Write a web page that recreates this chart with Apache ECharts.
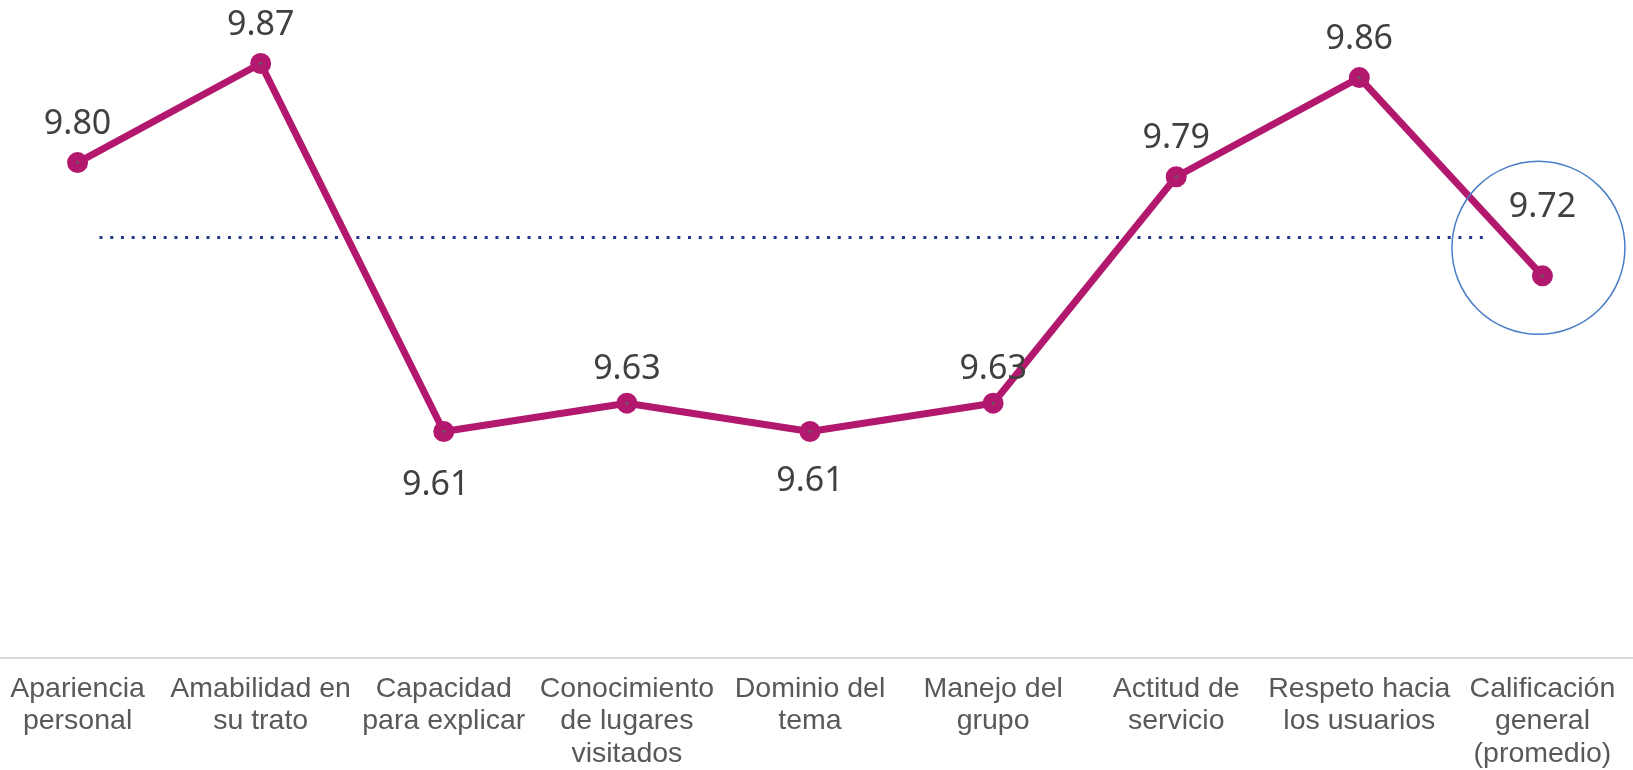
<!DOCTYPE html>
<html>
<head>
<meta charset="utf-8">
<script src="https://cdn.jsdelivr.net/npm/echarts@6/dist/echarts.min.js"></script>
<style>
  html, body { margin: 0; padding: 0; background: #fff; }
  #chart { width: 1633px; height: 770px; }
</style>
</head>
<body>
<div id="chart"></div>
<script>
const categories = [
  'Apariencia\npersonal',
  'Amabilidad en\nsu trato',
  'Capacidad\npara explicar',
  'Conocimiento\nde lugares\nvisitados',
  'Dominio del\ntema',
  'Manejo del\ngrupo',
  'Actitud de\nservicio',
  'Respeto hacia\nlos usuarios',
  'Calificación\ngeneral\n(promedio)'
]
const scores = [9.80, 9.87, 9.61, 9.63, 9.61, 9.63, 9.79, 9.86, 9.72]

// dotted reference line (x in category index units)
const refX = [0.12, 7.71]
const refY = 9.747

const magenta = '#B3186F'

// label placement tweaks per point
const labelTweaks = {
  2: { position: 'bottom', distance: 26.5, offset: [-8, 0] },
  3: { distance: 6.5 },
  4: { position: 'bottom', distance: 22.5 },
  5: { distance: 6.5 },
  8: { distance: 41 }
}

const chart = echarts.init(document.getElementById('chart'))

const option = {
  animation: false,
  grid: { left: -14, right: -1, top: 21, bottom: 112, outerBoundsMode: 'none' },
  xAxis: [
    {
      type: 'category',
      data: categories,
      boundaryGap: true,
      axisLine: { show: true, lineStyle: { color: '#D9D9D9', width: 2 } },
      axisTick: { show: false },
      axisLabel: {
        interval: 0,
        margin: 15,
        color: '#595959',
        fontFamily: 'Liberation Sans, Arial, sans-serif',
        fontSize: 28.5,
        lineHeight: 32.3,
        align: 'center'
      },
      splitLine: { show: false }
    },
    {
      type: 'value',
      min: -0.5,
      max: 8.5,
      show: false
    }
  ],
  yAxis: {
    type: 'value',
    min: 9.45,
    max: 9.90,
    show: false,
    splitLine: { show: false }
  },
  series: [
    {
      type: 'line',
      xAxisIndex: 1,
      data: refX.map(x => [x, refY]),
      symbol: 'none',
      silent: true,
      lineStyle: { color: '#1F3A8A', width: 3, type: [3, 7.7] },
      z: 1
    },
    {
      type: 'line',
      data: scores.map((v, i) => {
        const item = { value: v }
        if (labelTweaks[i]) item.label = labelTweaks[i]
        return item
      }),
      symbol: 'circle',
      symbolSize: 12,
      itemStyle: { color: '#5F5F5F', borderColor: magenta, borderWidth: 9 },
      lineStyle: { color: magenta, width: 7 },
      label: {
        show: true,
        position: 'top',
        distance: 10.5,
        color: '#404040',
        fontFamily: 'Noto Sans, Open Sans, sans-serif',
        fontSize: 34,
        formatter: p => p.value.toFixed(2)
      },
      markPoint: {
        silent: true,
        symbol: 'circle',
        symbolSize: 173,
        symbolOffset: [-4, -28],
        label: { show: false },
        itemStyle: { color: 'rgba(0,0,0,0)', borderColor: '#4A7EC6', borderWidth: 1.5 },
        data: [{ coord: [scores.length - 1, scores[scores.length - 1]] }]
      },
      z: 3
    }
  ]
}

chart.setOption(option)
</script>
</body>
</html>
